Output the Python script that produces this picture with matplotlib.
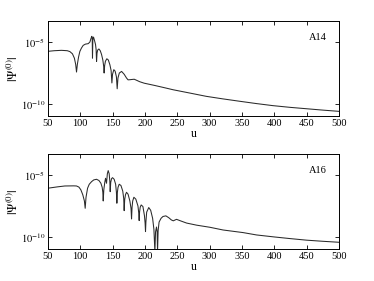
import matplotlib
matplotlib.use('Agg')
import matplotlib.pyplot as plt
import numpy as np

plt.rcParams['font.family'] = ['Liberation Serif', 'DejaVu Serif']
plt.rcParams['mathtext.fontset'] = 'stix'

# panel A14: u and log10|psi|
u_a14 = [50, 60, 71, 80, 84, 88, 91, 93, 94.3, 95.6, 97.5, 99.5, 102, 104.6, 108, 112.4,
         115, 116.5, 117.5, 118, 118.6, 119, 119.5, 120, 120.6, 122, 123.7, 124.6, 125.3,
         126, 127, 128.9, 131, 133, 135, 136.3, 137, 137.8, 139, 141.2, 143.5, 145.9, 147.8,
         149, 150, 152, 154, 156, 157.2, 158.4, 160.5, 164, 168, 171.6, 174, 176.8, 180,
         183.5, 187, 192, 199, 215, 230, 243.8, 270, 295, 320, 347, 372, 398, 425, 450,
         475, 500]
log_a14 = [-5.75, -5.70, -5.67, -5.70, -5.77, -5.95, -6.3, -6.8, -7.42, -6.8, -6.2, -5.75,
           -5.48, -5.27, -5.17, -5.13, -5.0, -4.74, -4.6, -4.54, -4.7, -6.3, -4.9, -4.65,
           -4.6, -4.85, -5.2, -5.6, -6.56, -5.9, -5.65, -5.56, -5.7, -6.0, -6.45, -6.95,
           -7.5, -6.9, -6.55, -6.35, -6.45, -6.83, -7.3, -8.3, -7.6, -7.23, -7.35, -7.8,
           -8.77, -7.9, -7.5, -7.37, -7.6, -7.9, -8.05, -8.04, -8.02, -8.0, -8.08, -8.2,
           -8.32, -8.5, -8.68, -8.85, -9.12, -9.38, -9.58, -9.78, -9.96, -10.13, -10.27,
           -10.38, -10.49, -10.59]

# panel A16
u_a16 = [50, 65, 76.3, 90, 94.3, 98, 101, 104, 106.5, 107.7, 109, 111.4, 114, 117.6, 121,
         125.3, 129, 132, 134, 135, 135.6, 136.5, 138, 139.2, 140.7, 142, 143.3, 144.8,
         145.8, 146.4, 147.2, 148.5, 150, 152.5, 154.8, 156, 156.7, 157.5, 158.5, 160.3,
         163, 165.8, 167.3, 168, 168.8, 170, 171.6, 174, 176.8, 178.6, 179.4, 180.2, 181.2,
         183, 186, 189.3, 190.6, 191.2, 191.8, 192.8, 194.3, 197, 199.4, 200.4, 201, 201.6,
         202.8, 206, 209, 212, 214, 215.5, 216.5, 218, 219, 219.6, 220.5, 222, 225, 228,
         232.5, 237, 241, 244, 246, 249, 255, 264.5, 280, 300.5, 321, 352, 372.7, 400,
         424, 450, 475, 500]
log_a16 = [-6.07, -5.96, -5.89, -5.88, -5.89, -5.98, -6.2, -6.6, -7.1, -7.69, -6.8, -6.07,
           -5.75, -5.54, -5.4, -5.35, -5.45, -5.67, -6.0, -6.4, -7.1, -6.2, -5.6, -5.27,
           -5.67, -4.9, -4.65, -4.9, -5.5, -6.35, -5.6, -5.3, -5.22, -5.35, -5.75, -6.4,
           -7.28, -6.4, -6.0, -5.75, -5.85, -6.3, -6.9, -7.88, -7.0, -6.6, -6.4, -6.55,
           -7.1, -7.7, -8.55, -7.6, -7.1, -6.8, -6.95, -7.5, -8.1, -8.68, -8.0, -7.6, -7.42,
           -7.55, -8.3, -8.9, -9.57, -8.8, -8.0, -7.63, -7.85, -8.5, -9.4, -11.2, -9.6, -9.2,
           -9.6, -11.2, -9.5, -8.8, -8.5, -8.35, -8.3, -8.45, -8.63, -8.7, -8.65, -8.58,
           -8.7, -8.88, -9.05, -9.22, -9.44, -9.65, -9.84, -10.0, -10.13, -10.26, -10.35,
           -10.43]

panels = [('A14', u_a14, log_a14), ('A16', u_a16, log_a16)]
xticks = [50, 100, 150, 200, 250, 300, 350, 400, 450, 500]

fig = plt.figure(figsize=(3.74, 2.81), dpi=100)
boxes = [[0.128, 0.587, 0.778, 0.338], [0.128, 0.114, 0.778, 0.338]]

for box, (name, u, lg) in zip(boxes, panels):
    ax = fig.add_axes(box)
    ax.semilogy(u, 10.0 ** np.array(lg), color='#2a2a2a', lw=0.75)
    ax.set_xlim(50, 500)
    ax.set_ylim(10 ** -10.97, 10 ** -3.31)
    ax.set_xticks(xticks)
    ax.set_yticks([1e-10, 1e-5])
    ax.set_yticklabels([r'$10^{-10}$', r'$10^{-5}$'])
    ax.yaxis.set_minor_locator(matplotlib.ticker.NullLocator())
    ax.tick_params(direction='in', top=True, right=True, labelsize=7.5,
                   length=3, width=0.6, pad=2)
    for s in ax.spines.values():
        s.set_linewidth(0.7)
    ax.set_xlabel('u', fontsize=8.5, labelpad=0)
    ax.set_ylabel(r'$|\Psi^{(0)}|$', fontsize=9, labelpad=0)
    ax.text(0.96, 0.83, name, transform=ax.transAxes, ha='right', va='center',
            fontsize=7.5)

fig.savefig('out.png', dpi=100)
